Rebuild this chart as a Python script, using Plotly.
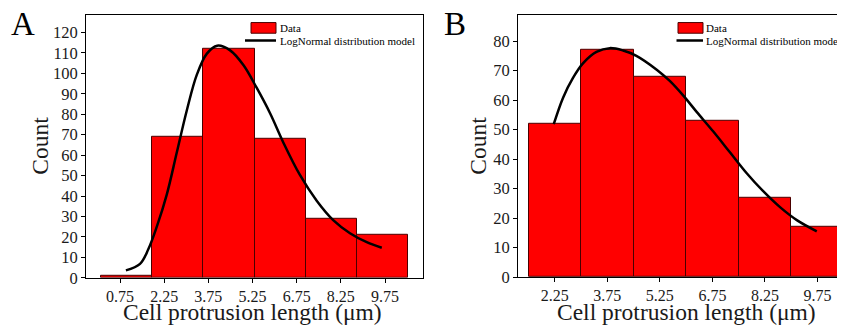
import plotly.graph_objects as go

FONT = "Liberation Serif"
W, H = 845, 336
OFF = 8  # default page margin of the HTML body shifts the figure by 8px

# ---------------- Panel A data ----------------
a_tick_vals = [0.75, 2.25, 3.75, 5.25, 6.75, 8.25, 9.75]
a_tick_text = ["0.75", "2.25", "3.75", "5.25", "6.75", "8.25", "9.75"]
a_bin_centers = [0.97, 2.71, 4.45, 6.19, 7.93, 9.67]
a_bin_width = 1.74
a_counts = [1, 69, 112, 68, 29, 21]
a_fit_x = [0.95, 1.43, 1.71, 2.0, 2.34, 2.68, 3.02, 3.36, 3.70, 4.05, 4.49, 4.94,
           5.39, 5.85, 6.30, 6.86, 7.43, 7.99, 8.56, 9.13, 9.64]
a_fit_y = [3.6, 6.8, 13.9, 25.0, 40.8, 61.4, 82.0, 99.4, 109.7, 113.6, 111.3, 104.1,
           93.0, 80.4, 66.1, 50.3, 37.7, 28.2, 21.8, 17.4, 14.7]

# ---------------- Panel B data ----------------
b_tick_vals = [2.25, 3.75, 5.25, 6.75, 8.25, 9.75]
b_tick_text = ["2.25", "3.75", "5.25", "6.75", "8.25", "9.75"]
b_bin_centers = [2.25, 3.75, 5.25, 6.75, 8.25, 9.75]
b_bin_width = 1.5
b_counts = [52, 77, 68, 53, 27, 17]
b_fit_x = [2.22, 2.49, 2.77, 3.06, 3.44, 3.82, 4.20, 4.58, 5.16, 5.54, 5.92, 6.30,
           6.77, 7.25, 7.73, 8.20, 8.68, 9.16, 9.73]
b_fit_y = [51.8, 60.9, 67.5, 72.5, 76.3, 77.6, 76.8, 75.0, 70.3, 66.4, 61.5, 56.0,
           49.4, 42.3, 35.2, 29.1, 23.7, 19.3, 15.5]

y_ticks_a = list(range(0, 121, 10))
y_ticks_b = list(range(0, 81, 10))

x_title = "Cell protrusion length (μm)"
y_title = "Count"
legend_bar = "Data"
legend_line = "LogNormal distribution model"

BAR_COLOR = "#FF0000"
BAR_LINE = "#4a0000"
TXT = "#1a1a1a"


def px(x):
    return (x - OFF) / W


def py(y):
    return 1 - (y - OFF) / H


fig = go.Figure()

fig.add_trace(go.Bar(x=a_bin_centers, y=a_counts, width=[a_bin_width] * len(a_counts),
                     marker=dict(color=BAR_COLOR, line=dict(color=BAR_LINE, width=1)),
                     name=legend_bar, xaxis="x", yaxis="y", showlegend=False))
fig.add_trace(go.Scatter(x=a_fit_x, y=a_fit_y, mode="lines",
                         line=dict(color="black", width=2.5, shape="spline"),
                         name=legend_line, xaxis="x", yaxis="y", showlegend=False))
fig.add_trace(go.Bar(x=b_bin_centers, y=b_counts, width=[b_bin_width] * len(b_counts),
                     marker=dict(color=BAR_COLOR, line=dict(color=BAR_LINE, width=1)),
                     name=legend_bar, xaxis="x2", yaxis="y2", showlegend=False))
fig.add_trace(go.Scatter(x=b_fit_x, y=b_fit_y, mode="lines",
                         line=dict(color="black", width=2.5, shape="spline"),
                         name=legend_line, xaxis="x2", yaxis="y2", showlegend=False))

axis_common = dict(showgrid=False, zeroline=False, showline=True, linecolor="black",
                   linewidth=1, ticks="outside", ticklen=4, tickwidth=1, tickcolor="black")
xtick_font = dict(family=FONT, size=16, color=TXT)
ytick_font = dict(family=FONT, size=16.5, color=TXT)

fig.update_layout(
    width=W, height=H,
    margin=dict(l=0, r=0, t=0, b=0),
    paper_bgcolor="white", plot_bgcolor="white",
    bargap=0,
    font=dict(family=FONT, color=TXT),
    showlegend=False,
    xaxis=dict(domain=[px(86), px(423)], range=[-0.405, 11.04],
               tickvals=a_tick_vals, ticktext=a_tick_text, mirror=True,
               tickfont=xtick_font, anchor="y", **axis_common),
    yaxis=dict(domain=[py(286), py(15)], range=[0, 128.7],
               tickvals=y_ticks_a, mirror=True, tickfont=ytick_font,
               anchor="x", **axis_common),
    xaxis2=dict(domain=[px(518), 1.0], range=[1.2, 10.764],
                tickvals=b_tick_vals, ticktext=b_tick_text, mirror=True,
                tickfont=xtick_font, anchor="y2", **axis_common),
    yaxis2=dict(domain=[py(285.3), py(15)], range=[0, 88.9],
                tickvals=y_ticks_b, mirror=False, tickfont=ytick_font,
                anchor="x2", **axis_common),
)

annotations = []
shapes = []

# panel letters
for letter, cx in (("A", 23), ("B", 455)):
    annotations.append(dict(text=letter, x=px(cx), y=py(24), xref="paper", yref="paper",
                            xanchor="center", yanchor="middle", showarrow=False,
                            font=dict(family=FONT, size=33, color="black")))

# axis titles
for cx in (253, 686):
    annotations.append(dict(text=x_title, x=px(cx), y=py(321.5), xref="paper", yref="paper",
                            xanchor="center", yanchor="middle", showarrow=False,
                            font=dict(family=FONT, size=23.5, color=TXT)))
for cx in (40, 478):
    annotations.append(dict(text=y_title, x=px(cx), y=py(150), xref="paper", yref="paper",
                            xanchor="center", yanchor="middle", showarrow=False,
                            textangle=-90, font=dict(family=FONT, size=23.5, color=TXT)))

# legends (drawn inside each panel)
for rx0, lx0, tx in ((251, 245, 278), (678, 676.5, 704)):
    shapes.append(dict(type="rect", xref="paper", yref="paper",
                       x0=px(rx0), x1=px(rx0 + 25), y0=py(34), y1=py(23),
                       fillcolor=BAR_COLOR, line=dict(color=BAR_LINE, width=1)))
    shapes.append(dict(type="line", xref="paper", yref="paper",
                       x0=px(lx0), x1=px(rx0 + 25), y0=py(41.5), y1=py(41.5),
                       line=dict(color="black", width=2.5)))
    annotations.append(dict(text=legend_bar, x=px(tx), y=py(28.5), xref="paper", yref="paper",
                            xanchor="left", yanchor="middle", showarrow=False,
                            font=dict(family=FONT, size=11, color="black")))
    annotations.append(dict(text=legend_line, x=px(tx), y=py(41.5), xref="paper", yref="paper",
                            xanchor="left", yanchor="middle", showarrow=False,
                            font=dict(family=FONT, size=11, color="black")))

fig.update_layout(annotations=annotations, shapes=shapes)

fig.write_html("out.html")
